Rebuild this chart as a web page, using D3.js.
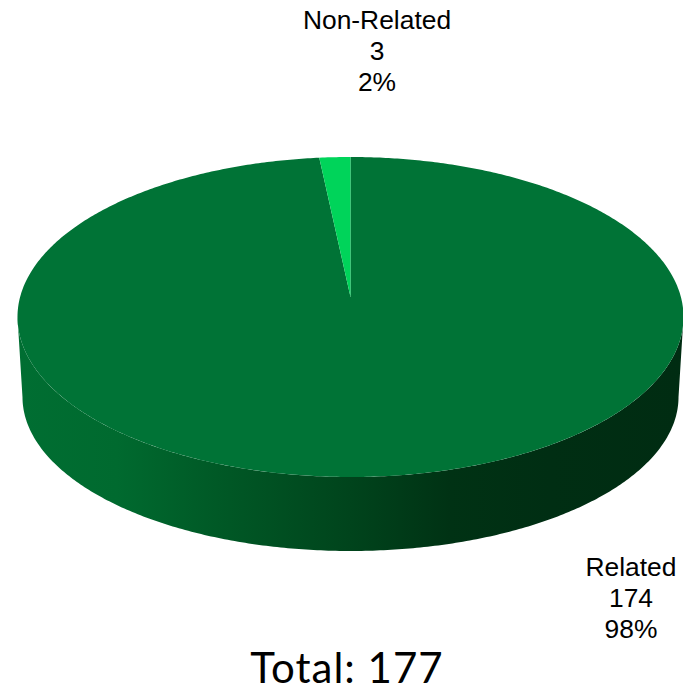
<!DOCTYPE html>
<html>
<head>
<meta charset="utf-8">
<script src="https://cdn.jsdelivr.net/npm/d3@7"></script>
<style>
  html, body { margin: 0; padding: 0; background: #ffffff; }
  svg { display: block; }
</style>
</head>
<body>
<script>
const categories = ['Non-Related', 'Related'];
const values = [3, 174];
const sliceColors = ['#00d45a', '#007336'];
const totalLabel = 'Total: 177';

const Constants = {
  width: 683,
  height: 691,
  centerX: 350.5,
  // perspective of the disc: apex is not in the middle of the ellipse
  apexY: 297,
  radiusX: 330.4,
  radiusY: 157.5,
  perspective: 0.125,
  // bottom rim
  bottomApexY: 377.75,
  bottomScaleX: 0.985,
  bottomScaleY: 0.9625,
  labelSize: 26.4,
  labelLeading: 31,
};

const svg = d3.select('body')
  .append('svg')
  .attr('width', Constants.width)
  .attr('height', Constants.height);

function project(angle, radius, apexY, scaleX, scaleY) {
  const u = radius * Math.sin(angle);
  const v = radius * Math.cos(angle);
  const w = 1 + Constants.perspective * v;
  return [
    Constants.centerX + (Constants.radiusX * scaleX * u) / w,
    apexY - (Constants.radiusY * scaleY * v) / w,
  ];
}

const topPoint = a => project(a, 1, Constants.apexY, 1, 1);
const bottomPoint = a => project(a, 1, Constants.bottomApexY, Constants.bottomScaleX, Constants.bottomScaleY);

function sampleAngles(start, end) {
  const steps = Math.max(2, Math.ceil(Math.abs(end - start) / 0.01));
  return d3.range(steps + 1).map(i => start + ((end - start) * i) / steps);
}

const line = d3.line();

// Non-Related sits just left of 12 o'clock, Related takes the rest
const pie = d3.pie()
  .sort(null)
  .startAngle((-2 * Math.PI * values[0]) / d3.sum(values))
  .endAngle(2 * Math.PI - (2 * Math.PI * values[0]) / d3.sum(values));
const slices = pie(values);

const defs = svg.append('defs');
const gradient = defs.append('linearGradient')
  .attr('id', 'side-shade')
  .attr('gradientUnits', 'userSpaceOnUse')
  .attr('x1', 17).attr('x2', 683).attr('y1', 0).attr('y2', 0);
[
  [0, '#006e32'],
  [0.15, '#006a2f'],
  [0.3, '#005926'],
  [0.5, '#00441c'],
  [0.65, '#003214'],
  [0.8, '#002e13'],
  [1, '#002c12'],
].forEach(([offset, color]) => {
  gradient.append('stop').attr('offset', offset).attr('stop-color', color);
});

// Side wall, between the two rim silhouettes
const edgeAngle = Math.acos(-Constants.perspective);
const sideAngles = sampleAngles(edgeAngle, 2 * Math.PI - edgeAngle);
svg.append('path')
  .attr('d', line(sideAngles.map(topPoint).concat(sideAngles.slice().reverse().map(bottomPoint))) + 'Z')
  .attr('fill', 'url(#side-shade)');

// Top face
svg.append('g')
  .selectAll('path')
  .data(slices.slice().reverse())
  .enter()
  .append('path')
  .attr('d', d => {
    const apex = [Constants.centerX, Constants.apexY];
    return line([apex].concat(sampleAngles(d.startAngle, d.endAngle).map(topPoint))) + 'Z';
  })
  .attr('fill', d => sliceColors[d.index]);

// Slice labels
const percent = d3.format('.0%');
const labelPositions = [
  { x: 377, y: 29 },
  { x: 631, y: 576 },
];
const total = d3.sum(values);

categories.forEach((category, i) => {
  const rows = [category, String(values[i]), percent(values[i] / total)];
  svg.append('g')
    .selectAll('text')
    .data(rows)
    .enter()
    .append('text')
    .attr('x', labelPositions[i].x)
    .attr('y', (d, j) => labelPositions[i].y + j * Constants.labelLeading)
    .attr('text-anchor', 'middle')
    .style('font-family', '"Liberation Sans", Arial, sans-serif')
    .style('font-size', Constants.labelSize + 'px')
    .style('fill', '#000000')
    .text(d => d);
});

svg.append('text')
  .attr('x', 347)
  .attr('y', 683)
  .attr('text-anchor', 'middle')
  .style('font-family', 'Lato, sans-serif')
  .style('font-size', '42px')
  .style('letter-spacing', '1px')
  .style('fill', '#000000')
  .text(totalLabel);
</script>
</body>
</html>
